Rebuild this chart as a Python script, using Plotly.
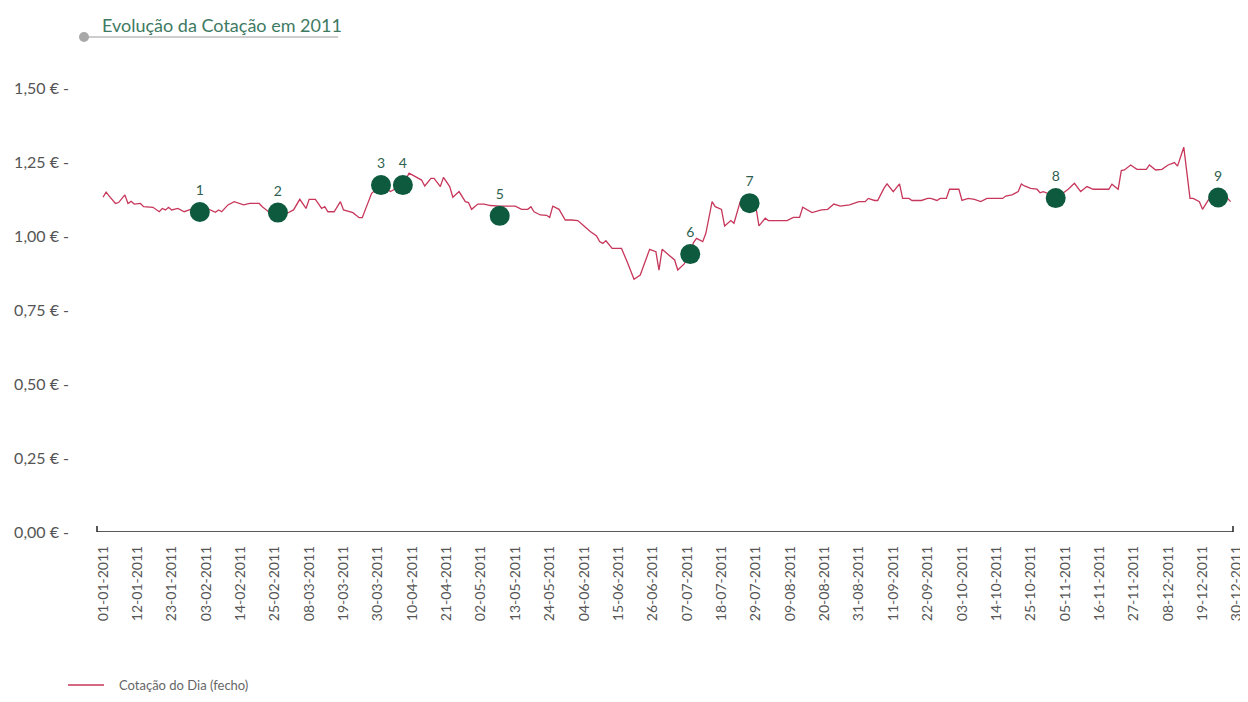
import plotly.graph_objects as go
import pandas as pd

# ---- data ----
line_dates = [
    "01-01", "01-02", "01-03", "01-05", "01-06", "01-08", "01-09", "01-10", "01-11", "01-13",
    "01-14", "01-16", "01-17", "01-19", "01-20", "01-21", "01-22", "01-23", "01-25", "01-27",
    "01-29", "02-01", "02-04", "02-06", "02-07", "02-08", "02-10", "02-12", "02-14", "02-15",
    "02-17", "02-20", "02-21", "02-23", "02-26", "03-01", "03-03", "03-05", "03-07", "03-08",
    "03-10", "03-12", "03-13", "03-14", "03-16", "03-18", "03-19", "03-21", "03-22", "03-24",
    "03-25", "03-28", "03-31", "04-03", "04-07", "04-09", "04-10", "04-12", "04-13", "04-14",
    "04-16", "04-17", "04-19", "04-20", "04-22", "04-23", "04-25", "04-27", "04-28", "04-29",
    "05-01", "05-03", "05-05", "05-08", "05-10", "05-13", "05-15", "05-17", "05-18", "05-19",
    "05-21", "05-23", "05-24", "05-25", "05-27", "05-29", "05-31", "06-02", "06-04", "06-06",
    "06-08", "06-09", "06-10", "06-11", "06-13", "06-16", "06-18", "06-20", "06-22", "06-23",
    "06-25", "06-27", "06-28", "06-29", "07-01", "07-03", "07-04", "07-06", "07-08", "07-09",
    "07-10", "07-12", "07-13", "07-15", "07-16", "07-18", "07-19", "07-21", "07-22", "07-24",
    "07-27", "07-29", "07-30", "08-01", "08-02", "08-08", "08-10", "08-12", "08-13", "08-16",
    "08-19", "08-21", "08-23", "08-25", "08-28", "08-31", "09-02", "09-03", "09-05", "09-06",
    "09-08", "09-09", "09-11", "09-13", "09-14", "09-16", "09-17", "09-20", "09-22", "09-23",
    "09-25", "09-26", "09-28", "09-29", "10-02", "10-03", "10-05", "10-07", "10-09", "10-11",
    "10-16", "10-17", "10-19", "10-21", "10-22", "10-23", "10-25", "10-27", "10-28", "10-29",
    "10-31", "11-02", "11-06", "11-08", "11-10", "11-12", "11-14", "11-19", "11-20", "11-22",
    "11-23", "11-24", "11-26", "11-28", "12-01", "12-02", "12-04", "12-06", "12-08", "12-10",
    "12-11", "12-13", "12-15", "12-16", "12-18", "12-19", "12-21", "12-24", "12-27", "12-28",
]
line_values = [
    1.131, 1.148, 1.135, 1.110, 1.113, 1.139, 1.110, 1.117, 1.108, 1.110,
    1.099, 1.099, 1.097, 1.082, 1.093, 1.088, 1.097, 1.088, 1.093, 1.082,
    1.090, 1.082, 1.090, 1.080, 1.088, 1.082, 1.105, 1.116, 1.108, 1.105,
    1.110, 1.110, 1.099, 1.082, 1.079, 1.077, 1.088, 1.124, 1.093, 1.124,
    1.124, 1.093, 1.099, 1.082, 1.082, 1.116, 1.088, 1.082, 1.079, 1.062,
    1.062, 1.144, 1.172, 1.150, 1.172, 1.212, 1.206, 1.195, 1.189, 1.169,
    1.195, 1.195, 1.167, 1.198, 1.167, 1.131, 1.150, 1.116, 1.113, 1.090,
    1.108, 1.108, 1.103, 1.101, 1.101, 1.101, 1.090, 1.090, 1.099, 1.082,
    1.071, 1.070, 1.063, 1.101, 1.090, 1.054, 1.054, 1.052, 1.034, 1.015,
    1.000, 0.981, 0.975, 0.984, 0.958, 0.958, 0.908, 0.854, 0.868, 0.899,
    0.955, 0.947, 0.885, 0.955, 0.936, 0.919, 0.885, 0.905, 0.940, 0.977,
    0.992, 0.981, 1.009, 1.116, 1.099, 1.090, 1.034, 1.052, 1.043, 1.116,
    1.113, 1.099, 1.034, 1.060, 1.052, 1.052, 1.063, 1.063, 1.097, 1.079,
    1.088, 1.090, 1.108, 1.101, 1.105, 1.116, 1.116, 1.127, 1.120, 1.120,
    1.161, 1.176, 1.150, 1.176, 1.127, 1.127, 1.120, 1.120, 1.127, 1.127,
    1.120, 1.127, 1.127, 1.158, 1.158, 1.120, 1.127, 1.124, 1.116, 1.127,
    1.127, 1.135, 1.139, 1.150, 1.176, 1.169, 1.161, 1.158, 1.146, 1.150,
    1.142, 1.127, 1.158, 1.178, 1.150, 1.167, 1.158, 1.158, 1.175, 1.158,
    1.221, 1.223, 1.240, 1.225, 1.225, 1.240, 1.223, 1.225, 1.240, 1.248,
    1.236, 1.300, 1.127, 1.127, 1.116, 1.090, 1.124, 1.131, 1.127, 1.116,
]

event_dates = ["02-01", "02-26", "03-31", "04-07", "05-08", "07-08", "07-27", "11-02", "12-24"]
event_values = [1.081, 1.079, 1.172, 1.172, 1.068, 0.939, 1.111, 1.128, 1.130]
event_labels = ["1", "2", "3", "4", "5", "6", "7", "8", "9"]

x_tick_labels = [
    "01-01-2011", "12-01-2011", "23-01-2011", "03-02-2011", "14-02-2011", "25-02-2011",
    "08-03-2011", "19-03-2011", "30-03-2011", "10-04-2011", "21-04-2011", "02-05-2011",
    "13-05-2011", "24-05-2011", "04-06-2011", "15-06-2011", "26-06-2011", "07-07-2011",
    "18-07-2011", "29-07-2011", "09-08-2011", "20-08-2011", "31-08-2011", "11-09-2011",
    "22-09-2011", "03-10-2011", "14-10-2011", "25-10-2011", "05-11-2011", "16-11-2011",
    "27-11-2011", "08-12-2011", "19-12-2011", "30-12-2011",
]
y_tick_values = [0, 0.25, 0.5, 0.75, 1.0, 1.25, 1.5]
y_tick_labels = ["0,00 € -", "0,25 € -", "0,50 € -", "0,75 € -", "1,00 € -", "1,25 € -", "1,50 € -"]

title_text = "Evolução da Cotação em 2011"
series_name = "Cotação do Dia (fecho)"

# ---- build ----
line_x = pd.to_datetime(["2011-" + d for d in line_dates])
event_x = pd.to_datetime(["2011-" + d for d in event_dates])
tick_x = pd.to_datetime(x_tick_labels, format="%d-%m-%Y")

FONT = "Lato, 'Open Sans', sans-serif"
LINE_COL = "#c7375b"
DOT_COL = "#0d5a3e"

# page offset of the figure (browser body margin)
OFF = 8
W, H = 1248 - OFF, 702 - 2 * OFF
L = 97 - OFF
R = (W + OFF) - 1240
T, B = 88 - OFF, (H + OFF) - 532

fig = go.Figure()
fig.add_trace(go.Scatter(
    x=line_x, y=line_values, mode="lines", name=series_name,
    line=dict(color=LINE_COL, width=1.3), showlegend=False, cliponaxis=False,
))
fig.add_trace(go.Scatter(
    x=event_x, y=event_values, mode="markers+text", text=event_labels,
    textposition="top center", textfont=dict(size=14, color="#2f5f50", family=FONT),
    marker=dict(size=20, color=DOT_COL), showlegend=False, cliponaxis=False,
))

fig.update_layout(
    width=W, height=H,
    margin=dict(l=L, r=R, t=T, b=B, pad=0, autoexpand=False),
    paper_bgcolor="white", plot_bgcolor="white",
    font=dict(family=FONT, color="#555"),
    xaxis=dict(
        type="date", automargin=False,
        range=["2010-12-30 02:00", "2011-12-31 00:00"],
        tickvals=tick_x, ticktext=x_tick_labels, tickangle=-90,
        tickfont=dict(size=14, color="#555", family=FONT),
        showgrid=False, zeroline=False, showline=False,
        ticks="", ticklabelstandoff=10, ticklabeloverflow="allow",
    ),
    yaxis=dict(
        range=[0, 1.5], automargin=False,
        tickvals=y_tick_values, ticktext=y_tick_labels,
        tickfont=dict(size=16, color="#555", family=FONT),
        showgrid=False, zeroline=False, showline=False, ticks="",
        ticklabelstandoff=27,
    ),
    showlegend=False,
)

pw = W - L - R
ph = H - T - B
def px_x(p):
    return (p - OFF - L) / pw
def px_y(p):
    return (H - B - (p - OFF)) / ph

# x axis line with small end ticks
ax_end = px_x(1233)
fig.add_shape(type="line", xref="paper", yref="y", x0=0, x1=ax_end, y0=0, y1=0,
              line=dict(color="#222", width=1.5))
for xe in (0, ax_end):
    fig.add_shape(type="line", xref="paper", yref="y", x0=xe, x1=xe, y0=0, y1=0.02,
                  line=dict(color="#222", width=1.5))

# title with underline and dot
fig.add_annotation(text=title_text, xref="paper", yref="paper",
                   x=px_x(100), y=px_y(25), xanchor="left", yanchor="middle",
                   showarrow=False, font=dict(size=18, color="#3e7a62", family=FONT))
fig.add_shape(type="line", xref="paper", yref="paper",
              x0=px_x(84), x1=px_x(338), y0=px_y(37), y1=px_y(37),
              line=dict(color="#bdbdbd", width=1.5))
fig.add_shape(type="circle", xref="paper", yref="paper",
              x0=px_x(79), x1=px_x(89), y0=px_y(42), y1=px_y(32),
              fillcolor="#a8a8a8", line=dict(color="#a8a8a8", width=0))

# legend (drawn manually below the axis labels)
fig.add_shape(type="line", xref="paper", yref="paper",
              x0=px_x(68), x1=px_x(104), y0=px_y(685), y1=px_y(685),
              line=dict(color=LINE_COL, width=1.3))
fig.add_annotation(text=series_name, xref="paper", yref="paper",
                   x=px_x(117), y=px_y(685), xanchor="left", yanchor="middle",
                   showarrow=False, font=dict(size=13, color="#666", family=FONT))

fig.write_html("out.html")
